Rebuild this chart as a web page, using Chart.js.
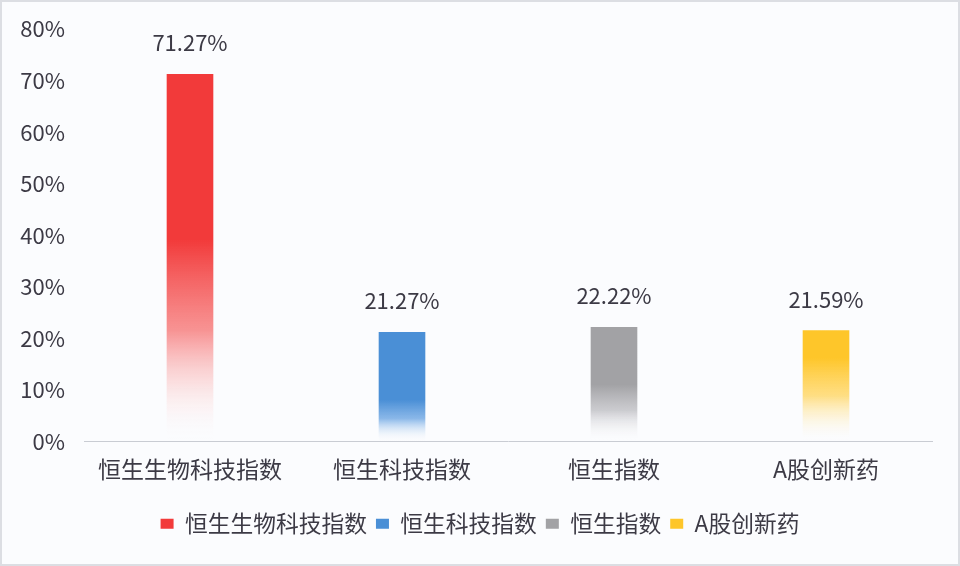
<!DOCTYPE html>
<html lang="zh">
<head>
<meta charset="UTF-8">
<title>涨幅对比</title>
<script src="https://cdn.jsdelivr.net/npm/chart.js"></script>
<style>
    html, body { margin: 0; padding: 0; background: #fff; }
    .frame {
        width: 960px; height: 566px;
        box-sizing: border-box;
        border: 2px solid #dcdee3;
        background: #fbfcfe;
    }
    #chart { display: block; }
</style>
</head>
<body>
<div class="frame">
    <canvas id="chart" width="956" height="562"></canvas>
</div>
<script>
    // data
    const categories = ['恒生生物科技指数', '恒生科技指数', '恒生指数', 'A股创新药'];
    const changes = [71.27, 21.27, 22.22, 21.59];
    const yTicks = [0, 10, 20, 30, 40, 50, 60, 70, 80];

    // colours: top colour, lower colour, where fading starts (0 = top, 1 = base)
    const topColors = ['#f23a3a', '#4a8fd6', '#a2a2a5', '#fec62a'];
    const fadeColors = ['rgba(246,120,120,0.8)', 'rgba(126,176,230,0.9)', 'rgba(190,190,195,0.8)', 'rgba(255,214,100,0.8)'];
    const fadeStart = [0.45, 0.62, 0.5, 0.25];

    const textColor = '#3c3a45';
    const fontFamily = '"Noto Sans CJK SC", "Noto Sans", sans-serif';

    function barGradient(ctx) {
        const chart = ctx.chart;
        const i = ctx.dataIndex;
        if (!chart.chartArea || ctx.type !== 'data') return topColors[i];
        const y = chart.scales.y;
        const top = y.getPixelForValue(ctx.raw);
        const base = y.getPixelForValue(0);
        const g = chart.ctx.createLinearGradient(0, top, 0, base);
        g.addColorStop(0, topColors[i]);
        g.addColorStop(fadeStart[i], topColors[i]);
        g.addColorStop(fadeStart[i] + (1 - fadeStart[i]) * 0.45, fadeColors[i]);
        g.addColorStop(1, 'rgba(255,255,255,0)');
        return g;
    }

    // value labels above the bars
    const valueLabels = {
        id: 'valueLabels',
        afterDatasetsDraw(chart) {
            const c = chart.ctx;
            const meta = chart.getDatasetMeta(0);
            c.save();
            c.font = '22px ' + fontFamily;
            c.fillStyle = textColor;
            c.textAlign = 'center';
            c.textBaseline = 'middle';
            meta.data.forEach((bar, i) => {
                c.fillText(changes[i].toFixed(2) + '%', bar.x, bar.y - 31);
            });
            c.restore();
        }
    };

    new Chart(document.getElementById('chart').getContext('2d'), {
        type: 'bar',
        data: {
            labels: categories,
            datasets: [{
                data: changes,
                backgroundColor: barGradient,
                borderWidth: 0,
                categoryPercentage: 1,
                barPercentage: 0.22
            }]
        },
        options: {
            responsive: false,
            animation: false,
            layout: { padding: { top: 27, right: 0, bottom: 19, left: 0 } },
            scales: {
                y: {
                    min: 0,
                    max: 80,
                    afterBuildTicks(scale) {
                        scale.ticks = yTicks.map(v => ({ value: v }));
                    },
                    afterFit(scale) {
                        scale.width = 82;
                        scale.paddingTop = 14;
                        scale.paddingBottom = 14;
                    },
                    grid: { display: false, drawTicks: false },
                    border: { display: false },
                    ticks: {
                        padding: 19,
                        color: textColor,
                        font: { family: fontFamily, size: 22 },
                        callback: v => v + '%'
                    }
                },
                // empty right gutter so the legend stays centred on the page
                gutter: {
                    type: 'linear',
                    position: 'right',
                    afterFit(scale) { scale.width = 26; },
                    grid: { display: false, drawTicks: false },
                    border: { display: false },
                    ticks: { display: false }
                },
                x: {
                    grid: { display: false, drawTicks: false },
                    border: { display: true, color: '#c9ccd3', width: 1 },
                    afterFit(scale) { scale.height += 6; },
                    ticks: {
                        padding: 14,
                        color: textColor,
                        font: { family: fontFamily, size: 23 }
                    }
                }
            },
            plugins: {
                tooltip: { enabled: false },
                legend: {
                    position: 'bottom',
                    labels: {
                        boxWidth: 13,
                        boxHeight: 10,
                        padding: 9,
                        color: textColor,
                        font: { family: fontFamily, size: 22.75 },
                        generateLabels: () => categories.map((name, i) => ({
                            text: name,
                            fillStyle: topColors[i],
                            strokeStyle: topColors[i],
                            lineWidth: 0,
                            fontColor: textColor,
                            index: i
                        }))
                    },
                    onClick: () => {}
                }
            }
        },
        plugins: [valueLabels]
    });
</script>
</body>
</html>
